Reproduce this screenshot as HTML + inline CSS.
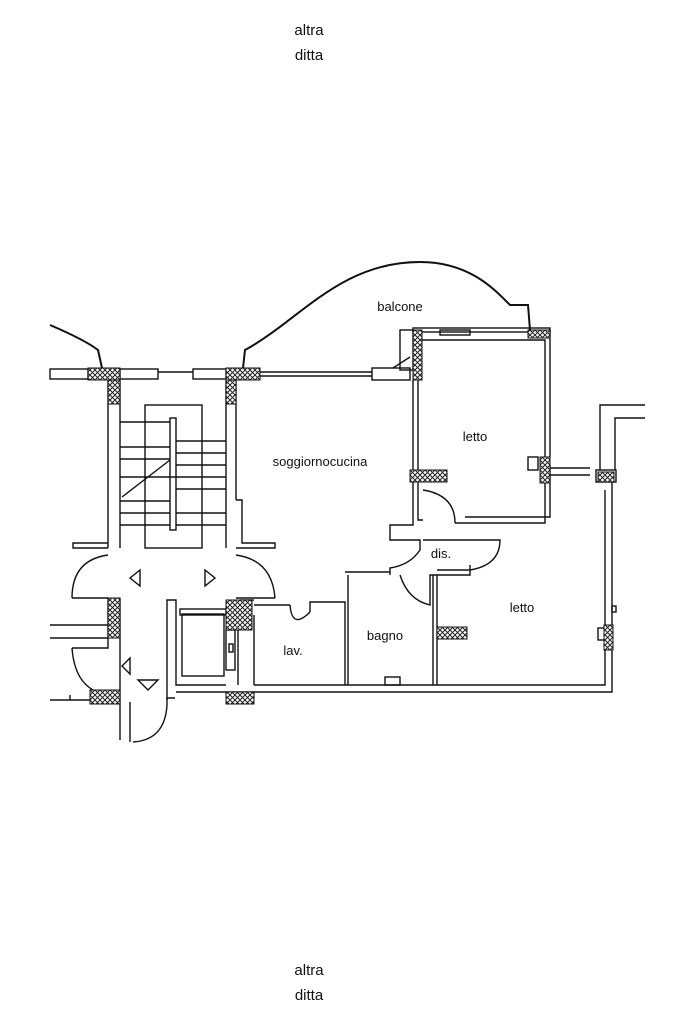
<!DOCTYPE html>
<html><head><meta charset="utf-8"><style>
html,body{margin:0;padding:0;background:#fff;}
svg{display:block;}
text{font-family:"Liberation Sans",sans-serif;fill:#111;}
</style></head><body>
<svg width="683" height="1025" viewBox="0 0 683 1025" xmlns="http://www.w3.org/2000/svg">
<defs>
<pattern id="h" width="5" height="5" patternUnits="userSpaceOnUse">
<rect width="5" height="5" fill="#fff"/>
<path d="M0,0L5,5M5,0L0,5" stroke="#222" stroke-width="1"/>
</pattern>
</defs>
<text x="309" y="35" font-size="15" text-anchor="middle">altra</text>
<text x="309" y="60" font-size="15" text-anchor="middle">ditta</text>
<text x="309" y="975" font-size="15" text-anchor="middle">altra</text>
<text x="309" y="1000" font-size="15" text-anchor="middle">ditta</text>

<g fill="none" stroke="#111" stroke-width="1.4">
<path d="M50,325 Q85,340 98,350 L102,368" stroke-width="2"/>
<path d="M243,368 L245,350 C300,320 340,262 420,262 C470,262 495,290 510,305 L528,305 L530,330" stroke-width="2"/>
<rect x="50" y="369" width="38" height="10"/>
<rect x="120" y="369" width="38" height="10"/>
<rect x="193" y="369" width="33" height="10"/>
<line x1="158" y1="372" x2="193" y2="372"/>
<line x1="260" y1="372" x2="372" y2="372"/>
<line x1="260" y1="376" x2="372" y2="376"/>
<rect x="372" y="368" width="38" height="12"/>
<rect x="400" y="330" width="13" height="40"/>
<line x1="393" y1="368" x2="410" y2="357"/>
<line x1="108" y1="380" x2="108" y2="548"/>
<line x1="120" y1="380" x2="120" y2="548"/>
<line x1="226" y1="380" x2="226" y2="548"/>
<line x1="236" y1="380" x2="236" y2="500"/>
<path d="M236,500 L242,500 L242,543 L275,543 L275,548 L236,548"/>
<path d="M108,548 L73,548 L73,543 L108,543"/>
<rect x="145" y="405" width="57" height="143"/>
<g stroke-width="1.6">
<line x1="120" y1="422" x2="170" y2="422"/>
<line x1="120" y1="447" x2="170" y2="447"/>
<line x1="120" y1="459" x2="170" y2="459"/>
<line x1="120" y1="477" x2="226" y2="477"/>
<line x1="120" y1="501" x2="170" y2="501"/>
<line x1="120" y1="513" x2="170" y2="513"/>
<line x1="120" y1="525" x2="170" y2="525"/>
<line x1="176" y1="441" x2="226" y2="441"/>
<line x1="176" y1="453" x2="226" y2="453"/>
<line x1="176" y1="465" x2="226" y2="465"/>
<line x1="176" y1="489" x2="226" y2="489"/>
<line x1="176" y1="513" x2="226" y2="513"/>
<line x1="176" y1="525" x2="226" y2="525"/>
</g>
<rect x="170" y="418" width="6" height="112"/>
<line x1="122" y1="497" x2="170" y2="460"/>
<path d="M72,598 Q72,560 108,555"/>
<path d="M236,555 Q272,560 275,598"/>
<path d="M72,598 L108,598 M236,598 L275,598"/>
<path d="M72,648 L108,648 L108,598"/>
<path d="M72,648 Q75,690 108,695"/>
<path d="M50,625 L108,625 M50,638 L108,638"/>
<path d="M120,598 L120,690"/>
<path d="M70,695 L70,700 L50,700 M70,700 L90,700"/>
<path d="M140,570 L130,578 L140,586 Z"/>
<path d="M205,570 L215,578 L205,586 Z"/>
<path d="M130,658 L122,666 L130,674 Z"/>
<path d="M138,680 L158,680 L148,690 Z"/>
<path d="M120,690 L120,740 M130,702 L130,742"/>
<path d="M133,742 Q165,740 167,705"/>
<path d="M167,705 L167,698 L175,698"/>
<path d="M167,700 L167,600 L176,600 L176,685 L226,685"/>
<rect x="182" y="614" width="42" height="62"/>
<rect x="180" y="609" width="46" height="6"/>
<rect x="226" y="630" width="9" height="40"/>
<rect x="229" y="644" width="4" height="8"/>
<line x1="238" y1="620" x2="238" y2="685"/>
<path d="M176,692 L612,692 L612,480"/>
<path d="M254,685 L605,685 L605,490"/>
<path d="M254,615 L254,685"/>
<path d="M254,605 L290,605 M290,605 Q292,630 310,612"/>
<path d="M310,612 L310,602 L345,602 L345,685"/>
<line x1="240" y1="600" x2="254" y2="600"/>
<path d="M348,575 L348,685 M345,572 L390,572"/>
<rect x="385" y="677" width="15" height="8"/>
<path d="M433,575 L433,685 M437,575 L437,685"/>
<path d="M400,575 Q408,600 430,605 L430,575 L470,575 L470,565"/>
<path d="M390,575 L390,568 Q410,565 420,550 L420,540 L390,540 L390,525 L413,525 L413,482"/>
<path d="M418,482 L418,520 L423,520"/>
<path d="M423,490 Q455,495 455,523"/>
<path d="M455,523 L545,523 L545,465 M550,465 L550,517 L465,517"/>
<path d="M470,540 L500,540 Q500,565 470,570 L437,570"/>
<line x1="423" y1="540" x2="470" y2="540"/>
<path d="M418,380 L418,470 M413,380 L413,470"/>
<path d="M422,340 L545,340 L545,457 M550,330 L550,457"/>
<rect x="413" y="328" width="137" height="4"/>
<rect x="440" y="330" width="30" height="5"/>
<rect x="528" y="457" width="10" height="13"/>
<path d="M550,468 L590,468 M550,475 L590,475"/>
<path d="M600,470 L600,405 L645,405 M615,470 L615,418 L645,418"/>
<rect x="596" y="470" width="20" height="12"/>
<rect x="612" y="606" width="4" height="6"/>
<rect x="598" y="628" width="8" height="12"/>
</g>
<g stroke="#111" stroke-width="1" fill="url(#h)">
<rect x="88" y="368" width="32" height="12"/>
<rect x="108" y="380" width="12" height="24"/>
<rect x="226" y="368" width="34" height="12"/>
<rect x="226" y="380" width="10" height="24"/>
<rect x="413" y="330" width="9" height="50"/>
<rect x="528" y="330" width="22" height="8"/>
<rect x="410" y="470" width="37" height="12"/>
<rect x="540" y="457" width="10" height="26"/>
<rect x="598" y="472" width="16" height="10"/>
<rect x="108" y="598" width="12" height="40"/>
<rect x="226" y="600" width="26" height="30"/>
<rect x="90" y="690" width="30" height="14"/>
<rect x="226" y="692" width="28" height="12"/>
<rect x="437" y="627" width="30" height="12"/>
<rect x="604" y="625" width="9" height="25"/>
</g>
<g font-size="13">
<text x="400" y="311" text-anchor="middle">balcone</text>
<text x="320" y="466" text-anchor="middle">soggiornocucina</text>
<text x="475" y="441" text-anchor="middle">letto</text>
<text x="441" y="558" text-anchor="middle">dis.</text>
<text x="522" y="612" text-anchor="middle">letto</text>
<text x="293" y="655" text-anchor="middle">lav.</text>
<text x="385" y="640" text-anchor="middle">bagno</text>
</g>
</svg>
</body></html>
